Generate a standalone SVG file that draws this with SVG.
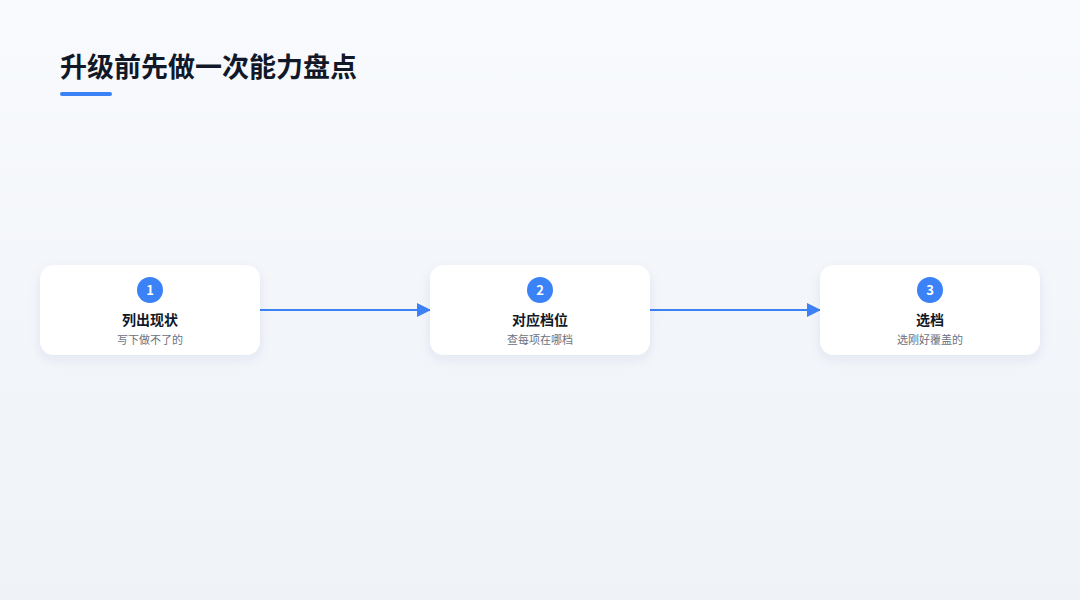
<svg xmlns="http://www.w3.org/2000/svg" width="1080" height="600" viewBox="0 0 1080 600">
<defs>
<linearGradient id="bg" x1="0" y1="0" x2="0" y2="1"><stop offset="0" stop-color="#f8fafd"/><stop offset="1" stop-color="#eff2f7"/></linearGradient>
<filter id="sh" x="-20%" y="-40%" width="140%" height="180%"><feDropShadow dx="0" dy="4" stdDeviation="6" flood-color="#1e3a8a" flood-opacity="0.08"/></filter>
<marker id="ar" markerWidth="14" markerHeight="14" refX="13" refY="7" orient="auto" markerUnits="userSpaceOnUse"><path d="M0,0 L14,7 L0,14 Z" fill="#3b82f6"/></marker>
<style>
.card{fill:#fff;filter:url(#sh)}
.num{fill:#3b82f6}
.nt{font:bold 13px "Noto Sans CJK SC",sans-serif;fill:#fff;text-anchor:middle}
.t{font:bold 14px "Noto Sans CJK SC",sans-serif;fill:#111827;text-anchor:middle}
.s{font:11px "Noto Sans CJK SC",sans-serif;fill:#6b7280;text-anchor:middle}
.c{stroke:#3b82f6;stroke-width:2;fill:none;marker-end:url(#ar)}
</style>
</defs>
<rect width="1080" height="600" fill="url(#bg)"/>
<text x="60" y="77" font-family="Noto Sans CJK SC, sans-serif" font-weight="bold" font-size="27" fill="#111827">升级前先做一次能力盘点</text>
<rect x="60" y="92" width="52" height="4" rx="2" fill="#3b82f6"/>
<g id="connectors">
<line class="c" x1="260" y1="310" x2="430" y2="310"/>
<line class="c" x1="650" y1="310" x2="820" y2="310"/>
</g>
<g id="n1"><rect class="card" x="40" y="265" width="220" height="90" rx="14"/><circle class="num" cx="150" cy="290" r="13"/><text class="nt" x="150" y="295">1</text><text class="t" x="150" y="325">列出现状</text><text class="s" x="150" y="344">写下做不了的</text></g>
<g id="n2"><rect class="card" x="430" y="265" width="220" height="90" rx="14"/><circle class="num" cx="540" cy="290" r="13"/><text class="nt" x="540" y="295">2</text><text class="t" x="540" y="325">对应档位</text><text class="s" x="540" y="344">查每项在哪档</text></g>
<g id="n3"><rect class="card" x="820" y="265" width="220" height="90" rx="14"/><circle class="num" cx="930" cy="290" r="13"/><text class="nt" x="930" y="295">3</text><text class="t" x="930" y="325">选档</text><text class="s" x="930" y="344">选刚好覆盖的</text></g>
</svg>
